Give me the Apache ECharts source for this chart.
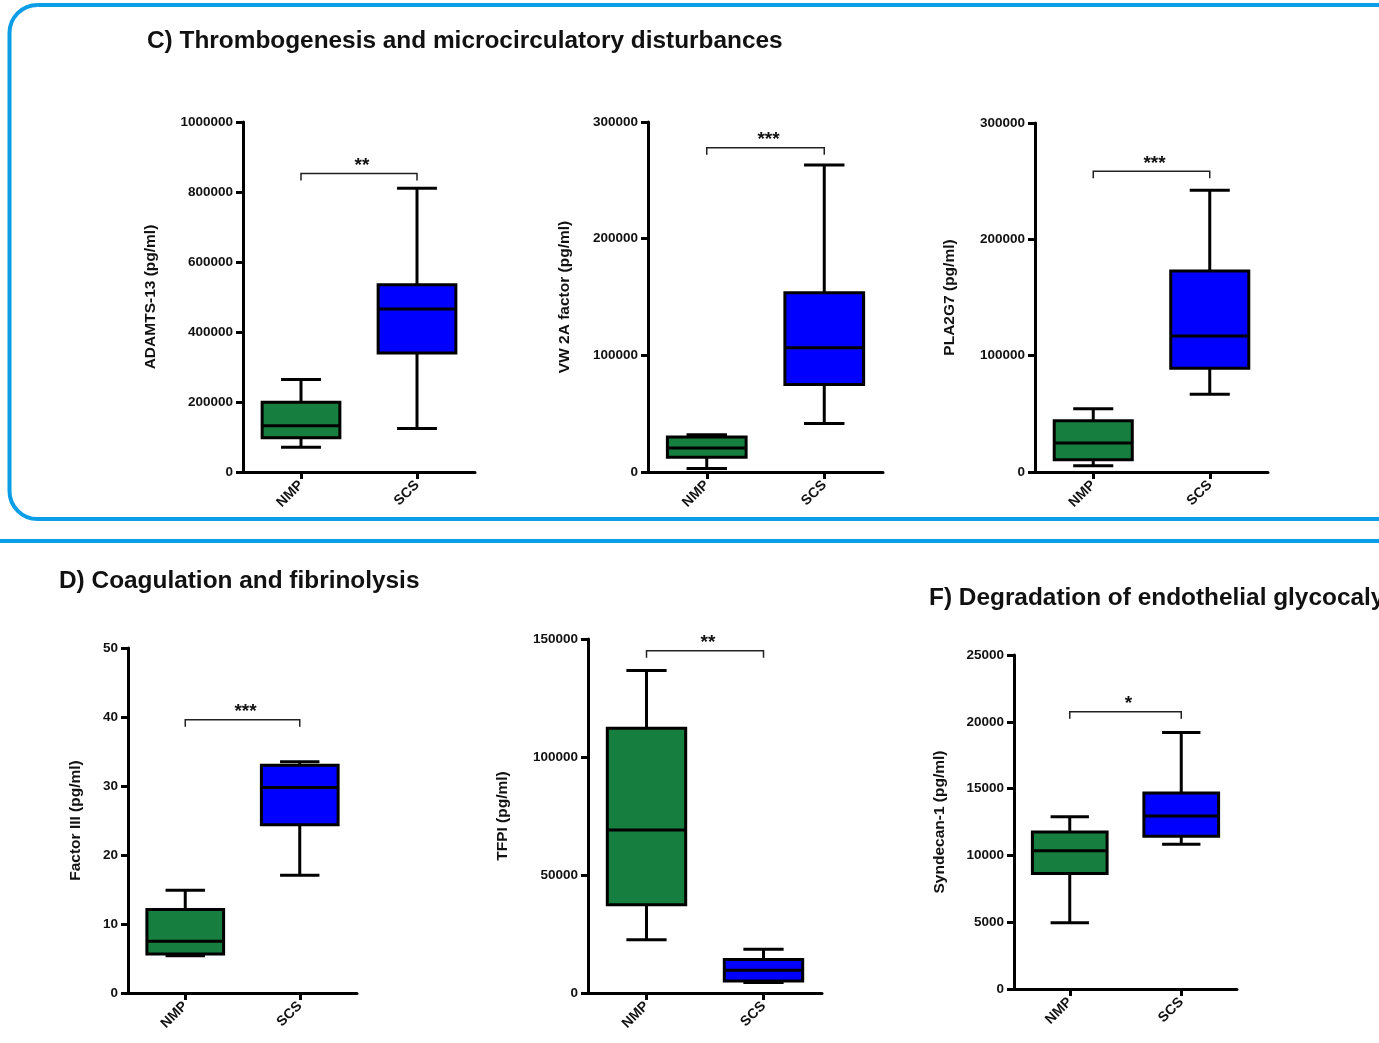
<!DOCTYPE html>
<html>
<head>
<meta charset="utf-8">
<title>Thrombogenesis, coagulation and glycocalyx markers</title>
<script src="https://cdn.jsdelivr.net/npm/echarts@6/dist/echarts.min.js"></script>
<style>
  html, body { margin: 0; padding: 0; background: #ffffff; }
  #chart { width: 1379px; height: 1043px; }
</style>
</head>
<body>
<div id="chart"></div>
<script>
// Groups compared in every panel
const groups = ['NMP', 'SCS'];

// Box summaries per group: [min, Q1, median, Q3, max]
const adamtsNMP = [71000, 98000, 132000, 199000, 264000];
const adamtsSCS = [124000, 340000, 466000, 535000, 811000];
const vw2aNMP = [2900, 12600, 20600, 30000, 32000];
const vw2aSCS = [41500, 74900, 106400, 153600, 263100];
const pla2g7NMP = [5400, 10600, 24900, 44000, 54300];
const pla2g7SCS = [66900, 89200, 117000, 172700, 242200];
const factor3NMP = [5.4, 5.65, 7.5, 12.1, 14.9];
const factor3SCS = [17.05, 24.4, 29.8, 33.0, 33.5];
const tfpiNMP = [22600, 37400, 69100, 112200, 136700];
const tfpiSCS = [4400, 5100, 9600, 14200, 18500];
const syndecanNMP = [4960, 8650, 10340, 11760, 12890];
const syndecanSCS = [10840, 11440, 12940, 14680, 19190];

// Axis names and tick ranges
const yNames = ['ADAMTS-13 (pg/ml)', 'VW 2A factor (pg/ml)', 'PLA2G7 (pg/ml)',
                'Factor III (pg/ml)', 'TFPI (pg/ml)', 'Syndecan-1 (pg/ml)'];
const yMax = [1000000, 300000, 300000, 50, 150000, 25000];
const yStep = [200000, 100000, 100000, 10, 50000, 5000];

// Significance brackets: level (data units) and star label
const bracketLevels = [853000, 278000, 258500, 39.6, 145000, 20760];
const starLabels = ['**', '***', '***', '***', '**', '*'];

// Section headings
const headings = ['C) Thrombogenesis and microcirculatory disturbances',
                  'D) Coagulation and fibrinolysis',
                  'F) Degradation of endothelial glycocalyx'];

const panels = [
  [adamtsNMP, adamtsSCS], [vw2aNMP, vw2aSCS], [pla2g7NMP, pla2g7SCS],
  [factor3NMP, factor3SCS], [tfpiNMP, tfpiSCS], [syndecanNMP, syndecanSCS]
];

const groupColors = ['#167f3f', '#0000ff'];
const FONT = '"Liberation Sans", Arial, Helvetica, sans-serif';
const INK = '#111111';

// Plot areas (px) and y-axis name offsets
const gridBoxes = [
  { left: 243, top: 122, width: 232, height: 350 },
  { left: 648, top: 122, width: 235, height: 350 },
  { left: 1035, top: 123, width: 233, height: 349 },
  { left: 128, top: 648, width: 229, height: 345 },
  { left: 588, top: 639, width: 234, height: 354 },
  { left: 1014, top: 655, width: 223, height: 334 }
];
const nameGaps = [84, 75, 77, 44, 77, 66];

function renderBox(params, api) {
  const idx = api.value(0);
  const lo = api.coord([idx, api.value(1)]);
  const q1 = api.coord([idx, api.value(2)]);
  const md = api.coord([idx, api.value(3)]);
  const q3 = api.coord([idx, api.value(4)]);
  const hi = api.coord([idx, api.value(5)]);
  const band = api.size([1, 0])[0];
  const half = band * 0.335;
  const cap = band * 0.172;
  const cx = lo[0];
  const stroke = { stroke: '#000', lineWidth: 3, fill: null };
  return {
    type: 'group',
    children: [
      { type: 'line', shape: { x1: cx, y1: q3[1], x2: cx, y2: hi[1] }, style: stroke },
      { type: 'line', shape: { x1: cx, y1: q1[1], x2: cx, y2: lo[1] }, style: stroke },
      { type: 'line', shape: { x1: cx - cap, y1: hi[1], x2: cx + cap, y2: hi[1] }, style: stroke },
      { type: 'line', shape: { x1: cx - cap, y1: lo[1], x2: cx + cap, y2: lo[1] }, style: stroke },
      { type: 'rect', shape: { x: cx - half, y: q3[1], width: half * 2, height: q1[1] - q3[1] },
        style: { fill: groupColors[idx], stroke: '#000', lineWidth: 3 } },
      { type: 'line', shape: { x1: cx - half, y1: md[1], x2: cx + half, y2: md[1] }, style: stroke }
    ]
  };
}

function makeBracketRenderer(label) {
  return function (params, api) {
    const level = api.value(2);
    const a = api.coord([api.value(0), level]);
    const b = api.coord([api.value(1), level]);
    const drop = 7;
    return {
      type: 'group',
      children: [
        { type: 'polyline',
          shape: { points: [[a[0], a[1] + drop], [a[0], a[1]], [b[0], b[1]], [b[0], b[1] + drop]] },
          style: { stroke: '#222', lineWidth: 1.5, fill: null } },
        { type: 'text',
          style: { text: label, x: (a[0] + b[0]) / 2 + 3, y: a[1] - 8,
                   align: 'center', verticalAlign: 'middle',
                   font: 'bold 19px ' + FONT, fill: INK } }
      ]
    };
  };
}

const grid = [], xAxis = [], yAxis = [], series = [];
panels.forEach(function (pair, i) {
  grid.push(Object.assign({ containLabel: false }, gridBoxes[i]));
  xAxis.push({
    type: 'category', gridIndex: i, data: groups, boundaryGap: true,
    axisLine: { show: true, lineStyle: { color: '#000', width: 3 } },
    axisTick: { show: true, alignWithLabel: true, length: 7, lineStyle: { color: '#000', width: 3 } },
    axisLabel: { rotate: 45, margin: 11, color: INK, fontSize: 14, fontWeight: 'bold', fontFamily: FONT },
    splitLine: { show: false }
  });
  yAxis.push({
    type: 'value', gridIndex: i, min: 0, max: yMax[i], interval: yStep[i],
    name: yNames[i], nameLocation: 'middle', nameRotate: 90, nameGap: nameGaps[i],
    nameTextStyle: { color: INK, fontSize: 15.5, fontWeight: 'bold', fontFamily: FONT },
    axisLine: { show: true, onZero: false, lineStyle: { color: '#000', width: 3 } },
    axisTick: { show: true, length: 7, lineStyle: { color: '#000', width: 3 } },
    axisLabel: { margin: 10, color: INK, fontSize: 13.5, fontWeight: 'bold', fontFamily: FONT,
                 formatter: function (v) { return String(v); } },
    splitLine: { show: false }
  });
  series.push({
    type: 'custom', xAxisIndex: i, yAxisIndex: i, renderItem: renderBox, clip: false,
    encode: { x: 0, y: [1, 2, 3, 4, 5] },
    data: pair.map(function (vals, g) { return [g].concat(vals); })
  });
  series.push({
    type: 'custom', xAxisIndex: i, yAxisIndex: i, renderItem: makeBracketRenderer(starLabels[i]), clip: false,
    encode: { x: [0, 1], y: 2 },
    data: [[0, 1, bracketLevels[i]]]
  });
});

const headingStyle = { color: '#111', fontSize: 24.4, fontWeight: 'bold', fontFamily: FONT };

const chart = echarts.init(document.getElementById('chart'), null, { renderer: 'canvas' });
chart.setOption({
  backgroundColor: '#ffffff',
  animation: false,
  title: [
    { text: headings[0], left: 147, top: 29, padding: 0, textStyle: headingStyle },
    { text: headings[1], left: 59, top: 569, padding: 0, textStyle: headingStyle },
    { text: headings[2], left: 929, top: 586, padding: 0, textStyle: headingStyle }
  ],
  graphic: [
    { type: 'rect', silent: true,
      shape: { x: 9.5, y: 5, width: 1420, height: 514, r: 28 },
      style: { fill: null, stroke: '#0b9ee6', lineWidth: 4 } },
    { type: 'line', silent: true,
      shape: { x1: 0, y1: 541, x2: 1379, y2: 541 },
      style: { stroke: '#0b9ee6', lineWidth: 4 } }
  ],
  grid: grid,
  xAxis: xAxis,
  yAxis: yAxis,
  series: series
});
</script>
</body>
</html>
